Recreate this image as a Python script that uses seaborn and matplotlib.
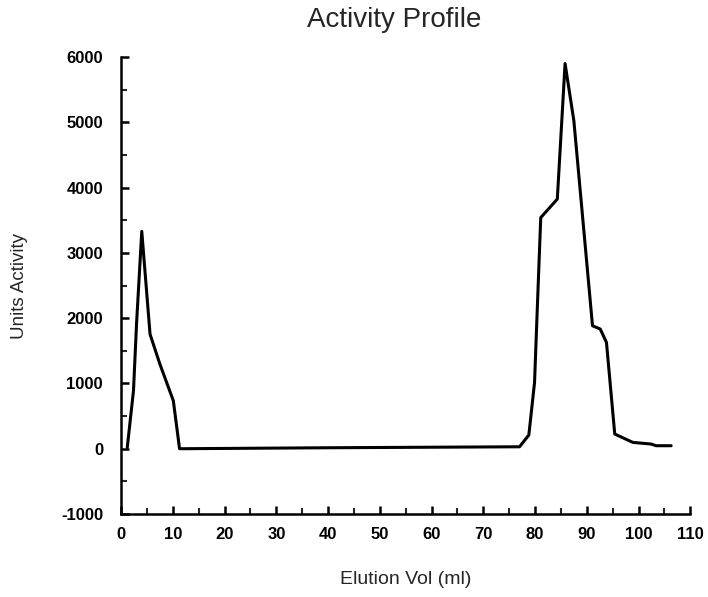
import matplotlib
matplotlib.use("Agg")
import matplotlib.pyplot as plt
from matplotlib.ticker import MultipleLocator
import seaborn as sns
import pandas as pd

elution_ml = [1.2, 2.4, 3.0, 4.0, 5.6, 7.5, 10.1, 11.3, 40.0, 77.0, 78.8, 79.9,
              80.6, 81.1, 84.3, 85.8, 87.5, 91.1, 92.6, 93.8, 95.4, 98.9, 102.4,
              103.4, 106.3]
units_activity = [20, 890, 1930, 3330, 1754, 1297, 735, 0, 15, 30, 210, 1015,
                  2500, 3540, 3824, 5900, 5023, 1884, 1833, 1628, 225, 97, 72,
                  46, 46]

df = pd.DataFrame({"Elution Vol (ml)": elution_ml, "Units Activity": units_activity})

sns.set_style("ticks")
plt.rcParams['font.family'] = ['Liberation Sans', 'DejaVu Sans']
plt.rcParams['axes.unicode_minus'] = False

fig = plt.figure(figsize=(7.08, 5.97), dpi=100)
ax = fig.add_axes([0.171, 0.139, 0.975 - 0.171, 0.9045 - 0.139])

sns.lineplot(data=df, x="Elution Vol (ml)", y="Units Activity", ax=ax,
             color="black", linewidth=2.2, sort=False)

ax.set_xlim(0, 110)
ax.set_ylim(-1000, 6000)
ax.xaxis.set_major_locator(MultipleLocator(10))
ax.xaxis.set_minor_locator(MultipleLocator(5))
ax.yaxis.set_major_locator(MultipleLocator(1000))
ax.yaxis.set_minor_locator(MultipleLocator(500))

ax.tick_params(axis="both", which="major", direction="in", length=6, width=1.8,
               labelsize=12, colors="black")
ax.tick_params(axis="both", which="minor", direction="in", length=4, width=1.5)
ax.tick_params(axis="y", which="major", pad=13)
ax.tick_params(axis="x", which="major", pad=9)
for lbl in ax.get_xticklabels() + ax.get_yticklabels():
    lbl.set_fontweight("bold")

for side in ["top", "right"]:
    ax.spines[side].set_visible(False)
for side in ["left", "bottom"]:
    ax.spines[side].set_linewidth(1.8)
    ax.spines[side].set_color("black")

ax.set_xlabel("Elution Vol (ml)", fontsize=14)
ax.set_ylabel("Units Activity", fontsize=13.5)
ax.xaxis.set_label_coords(0.5, -0.125)
ax.yaxis.set_label_coords(-0.163, 0.5)
ax.set_title("Activity Profile", fontsize=20, pad=21.6, x=0.48)

fig.savefig("out.png", dpi=100)
